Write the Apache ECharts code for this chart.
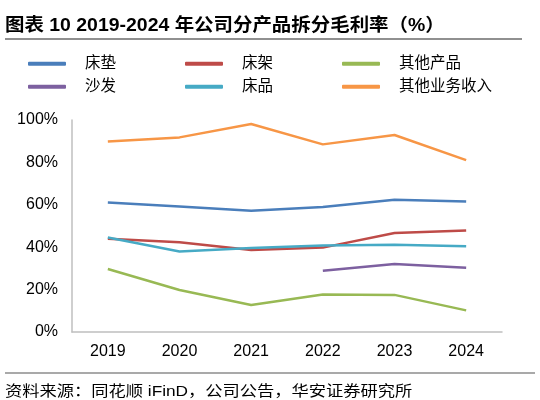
<!DOCTYPE html>
<html><head><meta charset="utf-8">
<script src="https://cdn.jsdelivr.net/npm/echarts@6/dist/echarts.min.js"></script>
<style>html,body{margin:0;padding:0;background:#fff}#c{width:540px;height:400px}</style>
</head><body><div id="c"></div>
<script>
const years = ['2019','2020','2021','2022','2023','2024'];
const mattress = [61.1, 59.2, 57.2, 59.0, 62.4, 61.5];      // 床垫
const bedFrame = [44.0, 42.3, 38.7, 39.8, 46.7, 47.9];      // 床架
const otherProducts = [29.7, 19.8, 12.7, 17.7, 17.5, 10.2]; // 其他产品
const sofa = [null, null, null, 28.9, 32.1, 30.3];          // 沙发
const bedding = [44.6, 38.0, 39.6, 40.8, 41.2, 40.4];       // 床品
const otherBusiness = [89.9, 91.8, 98.1, 88.5, 92.9, 81.1]; // 其他业务收入
const yTicks = [0, 20, 40, 60, 80, 100];

const names = ['床垫','床架','其他产品','沙发','床品','其他业务收入'];
const datas = [mattress, bedFrame, otherProducts, sofa, bedding, otherBusiness];
const colors = ['#4A7EBB','#BE4B48','#98B954','#7D60A0','#46AAC5','#F79646'];
const legendPos = [[28,56],[185,56],[342,56],[28,79],[185,79],[342,79]];

const cjk = '"Liberation Sans","Noto Sans CJK SC",sans-serif';
const chart = echarts.init(document.getElementById('c'));
chart.setOption({
  animation:false,
  textStyle:{fontFamily:cjk},
  graphic:[
    {type:'text',x:5,y:26,scaleX:1.08,originX:0,
      style:{text:'图表 10 2019-2024 年公司分产品拆分毛利率（%）',fontSize:18,fontWeight:'bold',
        fill:'#000',fontFamily:cjk,verticalAlign:'middle',align:'left'}},
    {type:'line',shape:{x1:5,y1:39,x2:522,y2:39},style:{stroke:'#222',lineWidth:1.2}},
    {type:'line',shape:{x1:5,y1:373,x2:535,y2:373},style:{stroke:'#555',lineWidth:1.2}},
    {type:'text',x:5,y:392,scaleX:1.15,originX:0,
      style:{text:'资料来源：同花顺 iFinD，公司公告，华安证券研究所',
        fontSize:15,fill:'#000',fontFamily:cjk,verticalAlign:'middle',align:'left'}}
  ],
  legend: names.map((n,i)=>({
    data:[n], left:legendPos[i][0], top:legendPos[i][1], padding:0,
    itemWidth:38, itemHeight:4, icon:'roundRect',
    textStyle:{fontSize:15.5,color:'#000',padding:[0,0,0,14]}
  })),
  grid:{left:72,right:38,top:120,bottom:68},
  xAxis:{type:'category',data:years,boundaryGap:true,
    axisLine:{lineStyle:{color:'#BFBFBF',width:1.5}},axisTick:{show:false},
    axisLabel:{fontSize:16,color:'#000',margin:12}},
  yAxis:{type:'value',min:yTicks[0],max:yTicks[yTicks.length-1],interval:20,
    axisLine:{show:true,lineStyle:{color:'#BFBFBF',width:1.5}},axisTick:{show:false},
    splitLine:{show:false},
    axisLabel:{fontSize:16,color:'#000',margin:14,formatter:'{value}%'}},
  series: names.map((n,i)=>({
    name:n,type:'line',data:datas[i],showSymbol:false,symbol:'none',
    color:colors[i],lineStyle:{width:2.5,color:colors[i]},connectNulls:false
  }))
});
</script></body></html>
